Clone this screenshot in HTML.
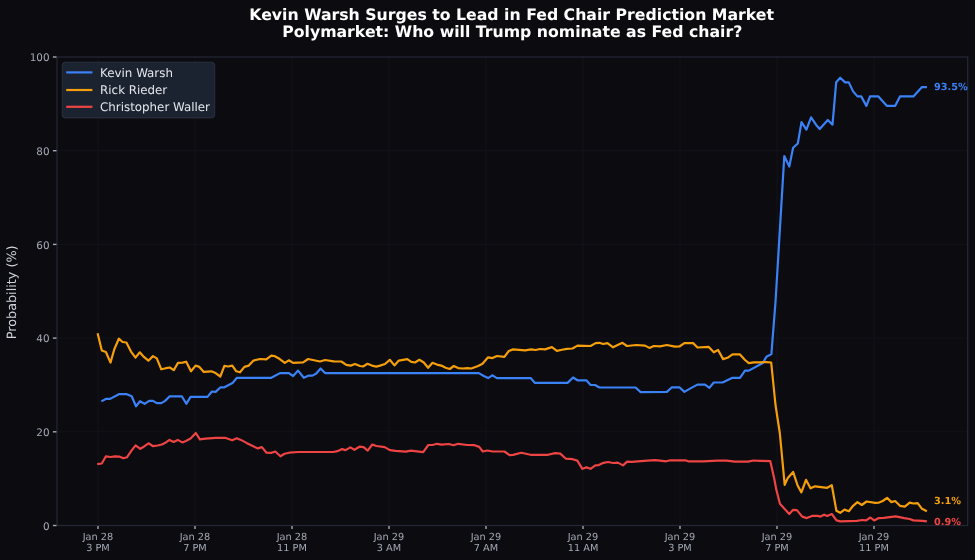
<!DOCTYPE html>
<html><head><meta charset="utf-8"><title>Kevin Warsh Surges to Lead in Fed Chair Prediction Market</title>
<style>html,body{margin:0;padding:0;background:#0b0b10;}body{width:975px;height:560px;overflow:hidden;}svg{display:block;will-change:transform;text-rendering:geometricPrecision;filter:blur(0.3px);}</style>
</head><body>
<svg width="975" height="560" viewBox="0 0 975 560"><rect width="975" height="560" fill="#0b0b10"/><g stroke="#141319" stroke-width="1"><line x1="98.0" y1="57.0" x2="98.0" y2="525.5"/><line x1="195.0" y1="57.0" x2="195.0" y2="525.5"/><line x1="292.0" y1="57.0" x2="292.0" y2="525.5"/><line x1="389.0" y1="57.0" x2="389.0" y2="525.5"/><line x1="486.0" y1="57.0" x2="486.0" y2="525.5"/><line x1="583.0" y1="57.0" x2="583.0" y2="525.5"/><line x1="680.0" y1="57.0" x2="680.0" y2="525.5"/><line x1="777.0" y1="57.0" x2="777.0" y2="525.5"/><line x1="874.0" y1="57.0" x2="874.0" y2="525.5"/><line x1="57.0" y1="431.8" x2="967.7" y2="431.8"/><line x1="57.0" y1="338.1" x2="967.7" y2="338.1"/><line x1="57.0" y1="244.4" x2="967.7" y2="244.4"/><line x1="57.0" y1="150.7" x2="967.7" y2="150.7"/></g><polyline points="101.4,401.4 106.2,398.8 110.2,398.9 118.8,394.2 126.8,394.2 131.7,396.3 136.0,406.3 140.0,401.2 144.6,403.9 149.2,400.9 153.0,400.9 156.8,403.1 161.3,403.1 165.1,400.9 169.7,396.3 181.8,396.3 186.3,403.8 190.6,396.9 207.5,396.9 211.9,391.5 215.6,391.9 220.6,387.3 224.4,387.3 232.5,383.1 236.9,377.8 271.3,377.8 280.0,373.1 288.8,373.1 293.1,376.0 298.1,370.6 303.8,377.8 308.8,375.6 312.5,375.6 316.3,373.5 320.6,368.5 325.0,373.1 478.8,373.1 483.8,376.0 488.1,378.1 492.3,375.3 496.9,378.1 530.6,378.1 535.0,382.9 567.5,382.9 573.1,377.5 577.5,380.3 586.3,380.3 590.6,385.0 595.0,385.0 599.4,387.5 635.6,387.5 640.6,392.1 666.9,391.9 671.9,387.3 679.4,387.3 684.4,391.9 691.3,387.9 697.5,384.6 705.0,384.6 709.4,387.8 713.8,382.5 722.5,382.5 732.5,377.8 740.0,377.8 745.0,370.6 748.8,370.6 762.9,363.0 766.4,356.8 771.4,354.1 775.6,300.5 784.3,156.0 789.3,166.6 793.1,147.8 797.8,143.5 801.5,122.1 806.4,129.6 811.1,117.4 816.0,124.7 819.7,129.0 827.8,120.0 832.5,124.7 836.2,82.2 840.2,77.7 845.1,82.4 848.8,82.4 853.1,91.4 857.4,96.4 861.2,96.4 866.4,105.9 870.0,96.4 878.4,96.4 887.0,105.9 895.1,105.9 900.0,96.4 913.4,96.4 922.0,87.1 926.9,87.1" fill="none" stroke="#3b82f6" stroke-width="2.2" stroke-linejoin="round" stroke-linecap="butt"/><polyline points="97.6,333.3 101.8,350.5 105.9,352.0 110.5,362.6 114.3,349.3 118.8,338.7 122.6,342.0 126.4,342.5 131.0,351.6 135.5,357.6 139.8,352.3 143.9,356.9 148.4,360.7 153.0,356.1 156.8,358.4 161.3,369.3 165.9,368.2 169.7,367.5 173.8,370.1 178.0,362.9 182.6,362.6 186.2,361.7 191.0,371.3 195.6,365.6 199.4,366.9 203.8,371.9 211.3,371.3 215.6,373.1 220.3,376.5 224.4,365.9 228.1,366.5 232.3,365.6 236.3,371.3 240.0,372.3 244.4,366.9 248.8,365.6 253.5,360.6 260.0,359.0 266.3,359.4 271.3,355.6 274.4,356.0 279.4,358.8 284.8,362.9 288.8,360.3 293.1,362.9 303.1,362.3 308.1,359.0 320.0,361.5 325.0,360.0 333.8,361.3 341.3,361.5 346.3,364.8 350.6,365.6 355.0,364.0 360.0,366.0 363.1,366.5 367.5,363.8 371.9,365.6 376.3,366.6 380.0,365.6 385.0,364.0 389.8,359.8 394.4,365.4 398.8,360.6 403.1,359.8 407.3,359.1 411.3,361.9 415.0,362.5 419.4,359.8 423.8,362.5 428.1,367.8 432.5,362.8 436.9,364.6 441.3,365.6 445.6,367.8 449.8,369.0 453.8,366.0 458.1,368.1 462.5,368.5 467.5,368.1 471.3,368.5 478.1,366.0 482.5,363.8 488.1,357.3 492.5,358.1 496.9,356.0 504.4,356.9 508.8,351.0 513.1,349.4 525.0,350.3 531.3,349.4 535.6,350.0 540.0,349.0 545.0,349.4 551.9,347.1 556.9,350.9 561.9,349.8 566.9,348.8 572.5,348.5 577.5,345.6 590.6,346.0 595.6,343.1 599.4,342.8 603.1,344.0 607.5,343.1 613.1,347.3 618.1,344.8 622.5,342.8 626.9,346.0 636.3,345.0 645.0,345.6 649.4,347.9 653.8,346.0 660.0,346.3 666.9,345.0 675.0,346.6 679.4,346.5 684.4,343.1 693.1,343.1 697.5,347.5 708.8,346.9 713.8,352.3 718.1,350.0 723.1,359.1 727.5,357.8 732.5,354.4 740.0,354.4 745.0,360.0 748.8,363.1 753.8,362.3 760.0,362.3 766.4,362.1 771.2,362.5 775.5,405.0 779.8,433.0 784.7,484.8 787.8,477.9 793.1,471.9 797.6,485.5 801.4,492.4 806.0,479.8 810.5,488.3 815.1,486.3 827.2,487.8 831.8,485.2 836.4,510.7 840.2,512.8 844.5,509.6 848.8,511.2 853.1,505.8 857.4,502.1 861.8,505.0 866.6,501.5 875.2,502.8 879.0,502.6 882.7,501.0 887.1,497.8 891.4,502.1 895.1,501.0 900.0,505.8 904.8,506.7 909.7,502.6 913.4,503.5 917.7,503.1 922.0,508.8 926.9,511.2" fill="none" stroke="#f59e0b" stroke-width="2.2" stroke-linejoin="round" stroke-linecap="butt"/><polyline points="97.2,464.2 101.8,463.5 105.9,456.3 110.5,457.0 115.1,456.3 119.2,456.6 123.3,458.3 126.9,457.3 131.5,450.6 135.6,445.3 140.3,448.8 143.8,446.7 148.5,443.3 153.1,446.2 157.7,445.5 161.8,444.5 165.9,442.4 169.5,439.9 173.6,441.9 177.7,439.9 182.3,442.4 185.9,440.9 190.6,438.5 195.8,433.0 199.9,439.4 205.5,438.6 215.8,437.8 225.0,437.8 232.2,440.2 236.8,438.3 240.9,439.9 246.5,442.9 252.7,446.0 257.8,448.4 261.9,447.1 266.5,452.7 271.2,452.9 275.3,451.5 280.4,456.3 284.6,453.7 289.2,452.7 298.5,452.0 333.3,452.0 337.4,451.2 342.1,449.1 345.6,450.1 350.3,447.4 354.4,449.8 359.5,446.7 363.6,447.1 367.7,450.6 372.3,444.5 376.4,446.0 384.7,447.1 389.9,450.1 395.5,450.8 405.8,451.7 410.9,450.6 423.2,452.2 428.3,445.0 432.4,445.0 437.1,443.8 441.7,444.7 448.8,444.0 453.5,445.2 458.1,443.8 467.3,445.0 474.6,445.2 479.2,446.9 482.8,451.5 487.4,450.5 492.6,451.5 504.4,451.5 509.5,455.1 513.1,454.9 521.3,452.8 530.5,454.8 548.0,454.8 555.1,453.1 560.3,453.6 565.9,458.7 572.7,459.2 577.3,460.6 582.4,468.8 586.5,467.4 590.6,468.8 595.3,465.4 598.8,465.1 603.5,462.8 608.1,462.0 613.2,463.0 617.8,462.6 623.0,465.4 627.1,461.6 631.7,461.8 647.1,460.6 655.3,460.1 660.0,460.6 666.2,461.3 670.3,460.3 685.1,460.3 688.2,461.3 703.1,461.3 717.4,460.6 726.7,460.6 734.9,461.6 748.2,461.6 753.3,460.5 760.0,460.8 770.3,461.2 774.1,477.9 776.4,490.1 779.9,503.7 784.0,508.3 789.3,513.9 793.1,509.8 796.9,510.1 802.2,516.6 806.7,518.1 812.0,515.9 817.4,515.9 820.4,516.6 824.2,514.7 827.2,515.9 831.8,514.0 836.5,520.4 840.2,521.4 856.9,520.9 862.3,520.0 866.1,520.4 870.4,517.5 874.1,520.4 878.4,518.2 883.8,517.9 895.7,516.4 904.3,518.2 909.7,519.0 913.4,520.4 922.6,520.9 926.9,521.4" fill="none" stroke="#ef4444" stroke-width="2.2" stroke-linejoin="round" stroke-linecap="butt"/><rect x="57.0" y="57.0" width="910.7" height="468.5" fill="none" stroke="#232733" stroke-width="1.3"/><g stroke="#a3a9b5" stroke-width="1"><line x1="52.9" y1="525.5" x2="56.5" y2="525.5" stroke-width="1.4"/><line x1="52.9" y1="431.8" x2="56.5" y2="431.8" stroke-width="1.4"/><line x1="52.9" y1="338.1" x2="56.5" y2="338.1" stroke-width="1.4"/><line x1="52.9" y1="244.4" x2="56.5" y2="244.4" stroke-width="1.4"/><line x1="52.9" y1="150.7" x2="56.5" y2="150.7" stroke-width="1.4"/><line x1="52.9" y1="57.0" x2="56.5" y2="57.0" stroke-width="1.4"/><line x1="98.0" y1="526.0" x2="98.0" y2="529.1" stroke-width="1.4"/><line x1="195.0" y1="526.0" x2="195.0" y2="529.1" stroke-width="1.4"/><line x1="292.0" y1="526.0" x2="292.0" y2="529.1" stroke-width="1.4"/><line x1="389.0" y1="526.0" x2="389.0" y2="529.1" stroke-width="1.4"/><line x1="486.0" y1="526.0" x2="486.0" y2="529.1" stroke-width="1.4"/><line x1="583.0" y1="526.0" x2="583.0" y2="529.1" stroke-width="1.4"/><line x1="680.0" y1="526.0" x2="680.0" y2="529.1" stroke-width="1.4"/><line x1="777.0" y1="526.0" x2="777.0" y2="529.1" stroke-width="1.4"/><line x1="874.0" y1="526.0" x2="874.0" y2="529.1" stroke-width="1.4"/></g><g font-family="DejaVu Sans, Liberation Sans, sans-serif" font-size="10.4" fill="#a3a9b5" text-anchor="end"><text x="49.5" y="529.6">0</text><text x="49.5" y="435.9">20</text><text x="49.5" y="342.2">40</text><text x="49.5" y="248.5">60</text><text x="49.5" y="154.8">80</text><text x="49.5" y="61.1">100</text></g><g font-family="DejaVu Sans, Liberation Sans, sans-serif" font-size="9.75" fill="#a3a9b5" text-anchor="middle"><text x="98.0" y="540.2">Jan 28</text><text x="98.0" y="551.0">3 PM</text><text x="195.0" y="540.2">Jan 28</text><text x="195.0" y="551.0">7 PM</text><text x="292.0" y="540.2">Jan 28</text><text x="292.0" y="551.0">11 PM</text><text x="389.0" y="540.2">Jan 29</text><text x="389.0" y="551.0">3 AM</text><text x="486.0" y="540.2">Jan 29</text><text x="486.0" y="551.0">7 AM</text><text x="583.0" y="540.2">Jan 29</text><text x="583.0" y="551.0">11 AM</text><text x="680.0" y="540.2">Jan 29</text><text x="680.0" y="551.0">3 PM</text><text x="777.0" y="540.2">Jan 29</text><text x="777.0" y="551.0">7 PM</text><text x="874.0" y="540.2">Jan 29</text><text x="874.0" y="551.0">11 PM</text></g><text transform="translate(16.0,292.35) rotate(-90)" font-family="DejaVu Sans, Liberation Sans, sans-serif" font-size="12.8" fill="#d1d5db" text-anchor="middle">Probability (%)</text><g font-family="DejaVu Sans, Liberation Sans, sans-serif" font-size="9.75" font-weight="bold"><text x="934.0" y="89.8" fill="#3b82f6">93.5%</text><text x="934.0" y="504.0" fill="#f59e0b">3.1%</text><text x="934.0" y="524.5" fill="#ef4444">0.9%</text></g><rect x="62.2" y="62.2" width="152.5" height="55.7" rx="3.2" fill="#1b2230" stroke="#2b3242" stroke-width="1"/><line x1="66.2" y1="72.4" x2="92.4" y2="72.4" stroke="#3b82f6" stroke-width="2.2"/><text x="100.1" y="76.7" font-family="DejaVu Sans, Liberation Sans, sans-serif" font-size="11.85" fill="#e5e7eb">Kevin Warsh</text><line x1="66.2" y1="90.0" x2="92.4" y2="90.0" stroke="#f59e0b" stroke-width="2.2"/><text x="100.1" y="94.3" font-family="DejaVu Sans, Liberation Sans, sans-serif" font-size="11.85" fill="#e5e7eb">Rick Rieder</text><line x1="66.2" y1="106.8" x2="92.4" y2="106.8" stroke="#ef4444" stroke-width="2.2"/><text x="100.1" y="111.1" font-family="DejaVu Sans, Liberation Sans, sans-serif" font-size="11.85" fill="#e5e7eb">Christopher Waller</text><g font-family="DejaVu Sans, Liberation Sans, sans-serif" font-size="15.72" font-weight="bold" fill="#ffffff" text-anchor="middle"><text x="511.65" y="19.7">Kevin Warsh Surges to Lead in Fed Chair Prediction Market</text><text x="512.25" y="37.3">Polymarket: Who will Trump nominate as Fed chair?</text></g></svg>
</body></html>
